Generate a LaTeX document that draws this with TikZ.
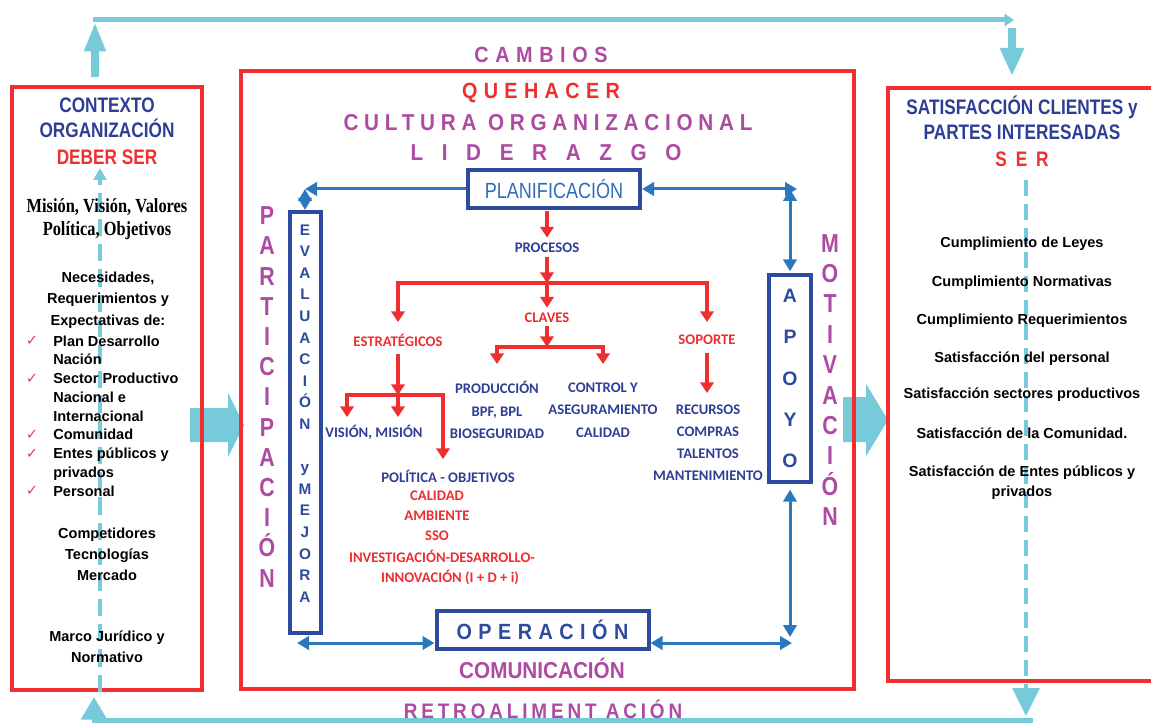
\documentclass[tikz,border=0pt]{standalone}
\usepackage{fontspec}
\setmainfont{Liberation Sans}
\newfontfamily\nar[FakeStretch=0.82]{Liberation Sans}
\newfontfamily\narw[FakeStretch=0.9]{Liberation Sans}
\newfontfamily\carl{Carlito}
\newfontfamily\tnar[FakeStretch=0.82]{Liberation Serif}
\newfontfamily\dejav{DejaVu Sans}
\usetikzlibrary{arrows.meta}
\definecolor{rd}{HTML}{EE2E2F}
\definecolor{cy}{HTML}{77CAD9}
\definecolor{bxb}{HTML}{2C4B9E}
\definecolor{arb}{HTML}{2B77BF}
\definecolor{pu}{HTML}{AE4AA2}
\definecolor{tb}{HTML}{2E3E96}
\definecolor{pl}{HTML}{2F6DB6}
\definecolor{ck}{HTML}{E64150}
\begin{document}
\begin{tikzpicture}[x=0.75pt,y=-0.75pt,
  t/.style={inner sep=0pt, align=center},
  redbox/.style={draw=rd, line width=3.2pt, inner sep=0pt},
  bbox/.style={draw=bxb, line width=3pt, inner sep=0pt},
  barr/.style={draw=arb, line width=2.25pt, arrows={Triangle[length=9pt,width=10pt]-Triangle[length=9pt,width=10pt]}},
  barrs/.style={draw=arb, line width=2.25pt, arrows={-Triangle[length=9pt,width=10pt]}},
  rarr/.style={draw=rd, line width=3pt, arrows={-Triangle[length=8pt,width=10pt]}},
  hd/.style={t, font=\nar\bfseries\fontsize{15.75pt}{18.75pt}\selectfont},
  bd/.style={t, font=\bfseries\fontsize{10.9pt}{16pt}\selectfont},
  sm/.style={t, font=\carl\bfseries\fontsize{11pt}{13pt}\selectfont},
  chk/.style={inner sep=0pt, text=ck, font=\dejav\bfseries\fontsize{11pt}{12pt}\selectfont}
]
\useasboundingbox (0,0) rectangle (1151,727);
\clip (0,0) rectangle (1151,727);

% cyan block arrows (under the boxes)
\fill[cy] (190,408) -- (228,408) -- (228,393) -- (244,425) -- (228,457) -- (228,442) -- (190,442) -- cycle;
\fill[cy] (843,397) -- (866,397) -- (866,384) -- (888,420) -- (866,456) -- (866,442) -- (843,442) -- cycle;

% red frames
\node[redbox, minimum width=142.5pt, minimum height=452.25pt] (leftbox) at (107,388.5) {};
\node[redbox, minimum width=459.75pt, minimum height=463.5pt] (centerbox) at (547.5,380) {};
\node[redbox, minimum width=207.75pt, minimum height=444.75pt] (rightbox) at (1026.5,384.5) {};

% cyan loop
\coordinate (lx) at (100,0);
\coordinate (ltop) at (100,168);
\coordinate (rx) at (1026,0);
\coordinate (rbot) at (1026,716);
\coordinate (tA) at (95,77);
\coordinate (tB) at (95,22);
\coordinate (tC) at (93,20);
\coordinate (tD) at (1014,20);
\coordinate (tE) at (1012,28);
\coordinate (tF) at (1012,76);
\coordinate (bA) at (1033,720);
\coordinate (bB) at (94,697);
\draw[cy, line width=3pt, dash pattern=on 13pt off 6pt, arrows={-Triangle[length=9pt,width=9.5pt]}] (leftbox.south -| lx) -- (ltop);
\draw[cy, line width=3pt, dash pattern=on 12pt off 6pt, arrows={-Triangle[length=21pt,width=20pt]}] (rx |- 0,180) -- (rbot);
\draw[cy, line width=6pt, arrows={-Triangle[length=22pt,width=15pt]}] (tA) -- (tB);
\draw[cy, line width=3.75pt, arrows={-Triangle[length=7pt,width=9pt]}] (tC) -- (tD);
\draw[cy, line width=6pt, arrows={-Triangle[length=21pt,width=17pt]}] (tE) -- (tF);
\draw[cy, line width=3.75pt, arrows={-Triangle[length=17pt,width=19pt]}] (bA) -| (bB);

% left panel texts
\node[hd, text=tb] (ctx) at (107,117.5) {CONTEXTO\\ORGANIZACIÓN};
\node[hd, text=rd] (deber) at (107,157) {DEBER SER};
\node[t, font=\tnar\bfseries\fontsize{15pt}{17.25pt}\selectfont] (mision) at (107,219.5) {Misión, Visión, Valores\\Política, Objetivos};
\node[bd] (neces) at (108,300) {Necesidades,\\Requerimientos y\\Expectativas de:};
\node[t, align=left, anchor=west, font=\bfseries\fontsize{10.9pt}{14.06pt}\selectfont] (lista) at (53,416) {Plan Desarrollo\\Nación\\Sector Productivo\\Nacional e\\Internacional\\Comunidad\\Entes públicos y\\privados\\Personal};
\node[chk] (c1) at (32,341) {✓};
\node[chk] (c2) at (32,379) {✓};
\node[chk] (c3) at (32,435) {✓};
\node[chk] (c4) at (32,454) {✓};
\node[chk] (c5) at (32,491) {✓};
\node[t, font=\bfseries\fontsize{10.9pt}{15.75pt}\selectfont] (compet) at (107,554) {Competidores\\Tecnologías\\Mercado};
\node[t, font=\bfseries\fontsize{10.9pt}{15.75pt}\selectfont] (marco) at (107,646.5) {Marco Jurídico y\\Normativo};

% right panel texts
\node[hd, text=tb] (satis) at (1022,117.5) {SATISFACCIÓN CLIENTES y\\PARTES INTERESADAS};
\node[hd, text=rd, font=\nar\bfseries\fontsize{15.75pt}{18.75pt}\selectfont\addfontfeature{LetterSpace=42}] (ser) at (1022,159) {SER};
\node[bd] (r1) at (1022,244) {Cumplimiento de Leyes};
\node[bd] (r2) at (1022,283) {Cumplimiento Normativas};
\node[bd] (r3) at (1022,321) {Cumplimiento Requerimientos};
\node[bd] (r4) at (1022,359) {Satisfacción del personal};
\node[bd] (r5) at (1022,395) {Satisfacción sectores productivos};
\node[bd] (r6) at (1022,433) {Satisfacción de la Comunidad.};
\node[t, font=\bfseries\fontsize{10.9pt}{15pt}\selectfont] (r7) at (1022,483) {Satisfacción de Entes públicos y\\privados};

% centre titles
\node[t, text=pu, font=\narw\bfseries\fontsize{16.5pt}{18pt}\selectfont\addfontfeature{LetterSpace=30}] (cambios) at (541,55) {CAMBIOS};
\node[t, text=rd, font=\narw\bfseries\fontsize{16.5pt}{18pt}\selectfont\addfontfeature{LetterSpace=29}] (quehacer) at (541,93) {QUEHACER};
\node[t, text=pu, font=\narw\bfseries\fontsize{17.25pt}{19pt}\selectfont\addfontfeature{LetterSpace=25}] (cultura) at (548,123) {CULTURA ORGANIZACIONAL};
\node[t, text=pu, font=\narw\bfseries\fontsize{17.25pt}{19pt}\selectfont\addfontfeature{LetterSpace=81}] (lider) at (546,153) {LIDERAZGO};

% blue frames
\node[bbox, minimum width=129pt, minimum height=28.5pt, text=pl, font=\nar\fontsize{16.5pt}{18pt}\selectfont] (planif) at (554,189) {PLANIFICACIÓN};
\node[bbox, minimum width=23.25pt, minimum height=315.75pt] (evalbox) at (305,422.5) {};
\node[bbox, line width=3.5pt, minimum width=31.5pt, minimum height=155.25pt, align=center, text=bxb, font=\bfseries\fontsize{14.6pt}{31pt}\selectfont] (apoyo) at (790,378.5) {A\\P\\O\\Y\\O};
\node[bbox, minimum width=159pt, minimum height=28.5pt, text=bxb, font=\narw\bfseries\fontsize{16.5pt}{18pt}\selectfont\addfontfeature{LetterSpace=29.5}] (operacion) at (542.5,630) {OPERACIÓN};

% vertical words
\node[t, text=pu, font=\nar\bfseries\fontsize{19.5pt}{22.65pt}\selectfont] (particip) at (267,397) {P\\A\\R\\T\\I\\C\\I\\P\\A\\C\\I\\Ó\\N};
\node[t, text=pu, font=\nar\bfseries\fontsize{19.5pt}{22.8pt}\selectfont] (motiv) at (830,380) {M\\O\\T\\I\\V\\A\\C\\I\\Ó\\N};
\node[t, text=bxb, font=\bfseries\fontsize{11.5pt}{16.2pt}\selectfont] (evaltxt) at (305,413.5) {E\\V\\A\\L\\U\\A\\C\\I\\Ó\\N\\\mbox{}\\y\\M\\E\\J\\O\\R\\A};

% process texts
\node[sm, text=tb] (procesos) at (547,248) {PROCESOS};
\node[sm, text=rd] (claves) at (547,318) {CLAVES};
\node[sm, text=rd] (estrat) at (398,340) {ESTRATÉGICOS};
\node[sm, text=rd] (soporte) at (707,340) {SOPORTE};
\node[sm, text=tb, font=\carl\bfseries\fontsize{11pt}{16.9pt}\selectfont] (prod) at (497,410) {PRODUCCIÓN\\BPF, BPL\\BIOSEGURIDAD};
\node[sm, text=tb, font=\carl\bfseries\fontsize{11pt}{16.9pt}\selectfont] (ctrl) at (603,410) {CONTROL Y\\ASEGURAMIENTO\\CALIDAD};
\node[sm, text=tb, font=\carl\bfseries\fontsize{11pt}{16.5pt}\selectfont] (recur) at (708,443) {RECURSOS\\COMPRAS\\TALENTOS\\MANTENIMIENTO};
\node[sm, text=tb] (vision) at (374,432) {VISIÓN, MISIÓN};
\node[sm, text=tb] (politica) at (448,476) {POLÍTICA - OBJETIVOS};
\node[sm, text=rd, font=\carl\bfseries\fontsize{11pt}{15pt}\selectfont] (calid) at (437,516) {CALIDAD\\AMBIENTE\\SSO};
\node[sm, text=rd] (invest) at (442,556) {INVESTIGACIÓN-DESARROLLO-};
\node[sm, text=rd] (innov) at (450,577) {INNOVACIÓN (I + D + i)};

\node[t, text=pu, font=\narw\bfseries\fontsize{17.25pt}{19pt}\selectfont] (comunic) at (542,668) {COMUNICACIÓN};
\node[t, text=pu, font=\narw\bfseries\fontsize{15.75pt}{17pt}\selectfont\addfontfeature{LetterSpace=18.5}] (retro) at (543,709) {RETROALIMENT ACIÓN};

% red process arrows
\coordinate (j1) at (547,283);
\coordinate (j2) at (547,347);
\coordinate (j3) at (398,395);
\coordinate (y1) at (0,322);
\coordinate (y2) at (0,364);
\coordinate (y3) at (0,393);
\coordinate (e1) at (347,417);
\coordinate (e2) at (398,417);
\coordinate (e3) at (443,459);
\draw[rarr, shorten <=1pt, shorten >=4pt] (planif.south -| procesos) -- (procesos.north);
\draw[rarr, shorten <=3pt] (procesos.south) -- (j1);
\draw[rarr, shorten >=4pt] (j1) -- (claves.north);
\draw[rarr] (j1) -| (estrat.north |- y1);
\draw[rarr] (j1) -| (soporte.north |- y1);
\draw[rarr, shorten <=2pt] (claves.south) -- (j2);
\draw[rarr] (j2) -| (prod.north |- y2);
\draw[rarr] (j2) -| (ctrl.north |- y2);
\draw[rarr, shorten <=6pt] (soporte.south) -- (soporte.south |- y3);
\draw[rarr, shorten <=6pt] (estrat.south) -- (j3);
\draw[rarr] (j3) -- (e2);
\draw[rarr] (j3) -| (e1);
\draw[rarr] (j3) -| (e3);

% blue cycle arrows
\coordinate (ylow) at (0,643);
\coordinate (tl) at (evalbox.north |- planif.west);
\coordinate (tr) at (797,189);
\draw[barrs] (planif.west) -- (tl);
\draw[barr] (tl) -- (evalbox.north);
\draw[barr] (planif.east) -- (tr);
\draw[barr, shorten >=1pt] (apoyo.north |- planif.east) -- (apoyo.north);
\draw[barr, shorten <=4pt] (apoyo.south) -- (apoyo.south |- 0,637);
\draw[barr] (operacion.east |- ylow) -- ([xshift=1.5pt]apoyo.south |- ylow);
\draw[barr] ([xshift=-6pt]evalbox.south |- ylow) -- (operacion.west |- ylow);
\end{tikzpicture}
\end{document}
